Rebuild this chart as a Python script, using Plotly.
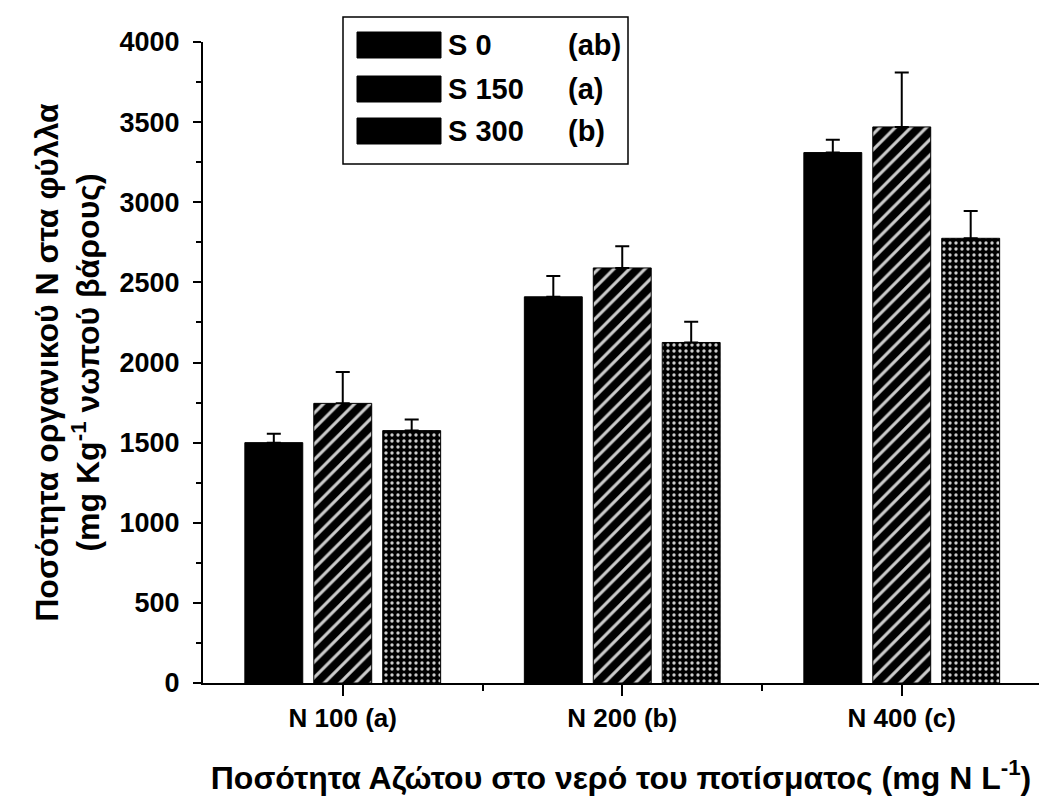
import plotly.graph_objects as go

# ---- data ----
categories = ["N 100 (a)", "N 200 (b)", "N 400 (c)"]
x_pos = [1, 2, 3]
series_names = ["S 0", "S 150", "S 300"]
series_letters = ["(ab)", "(a)", "(b)"]
s0_values = [1500, 2410, 3310]
s150_values = [1745, 2590, 3470]
s300_values = [1575, 2125, 2775]
s0_err = [55, 130, 80]
s150_err = [195, 135, 340]
s300_err = [70, 130, 170]

values = [s0_values, s150_values, s300_values]
errors = [s0_err, s150_err, s300_err]
patterns = [
    dict(shape=""),
    dict(shape="/", fgcolor="white", bgcolor="black", size=11, solidity=0.28, fgopacity=0.8),
    dict(shape=".", fgcolor="white", bgcolor="black", size=6, solidity=0.25, fgopacity=0.8),
]

FONT = "Liberation Sans, Arial, sans-serif"

fig = go.Figure()
for name, vals, errs, pat in zip(series_names, values, errors, patterns):
    fig.add_trace(go.Bar(
        x=x_pos, y=vals, name=name,
        marker=dict(color="black", line=dict(color="black", width=1), pattern=pat),
        error_y=dict(type="data", array=errs, arrayminus=[0] * len(errs), symmetric=False,
                     color="black", thickness=2, width=7),
        showlegend=False,
    ))

W, H = 1039, 807
L, R, T, B = 203, 0, 42, 124
plot_w = W - L - R
plot_h = H - T - B
px_per_unit = 279.5
x_range = [0.5, 0.5 + plot_w / px_per_unit]


def px(x):
    return (x - L) / plot_w


def py(y):
    return (H - B - y) / plot_h


# manual legend (large swatches as in the original)
shapes = [dict(type="rect", xref="paper", yref="paper",
               x0=px(343), x1=px(628), y0=py(164), y1=py(17),
               line=dict(color="black", width=1.5), fillcolor="white", layer="above")]
annotations = []
row_centers = [45, 89, 131]
for yc, name, let in zip(row_centers, series_names, series_letters):
    shapes.append(dict(type="rect", xref="paper", yref="paper",
                       x0=px(357), x1=px(441), y0=py(yc + 13), y1=py(yc - 13),
                       line=dict(color="black", width=1), fillcolor="black", layer="above"))
    annotations.append(dict(xref="paper", yref="paper", x=px(446), y=py(yc), text=name,
                            showarrow=False, xanchor="left", yanchor="middle",
                            font=dict(family=FONT, size=29, color="black", weight="bold")))
    annotations.append(dict(xref="paper", yref="paper", x=px(566), y=py(yc), text=let,
                            showarrow=False, xanchor="left", yanchor="middle",
                            font=dict(family=FONT, size=29, color="black", weight="bold")))

fig.update_layout(
    width=W, height=H,
    margin=dict(l=L, r=R, t=T, b=B, pad=0),
    paper_bgcolor="white", plot_bgcolor="white",
    barmode="group", bargap=0.26, bargroupgap=0.16,
    shapes=shapes, annotations=annotations,
    font=dict(family=FONT, color="black", size=22, weight="bold"),
)

fig.update_xaxes(
    range=x_range, tickvals=x_pos, ticktext=categories,
    showline=True, linecolor="black", linewidth=2,
    ticks="outside", ticklen=11, tickwidth=2, tickcolor="black",
    minor=dict(tickvals=[1.5, 2.5], ticks="outside", ticklen=6, tickwidth=2, tickcolor="black"),
    showgrid=False, zeroline=False,
    tickfont=dict(family=FONT, size=26, color="black", weight="bold"),
    title=dict(text="Ποσότητα Αζώτου στο νερό του ποτίσματος (mg N L<sup>-1</sup>)",
               font=dict(family=FONT, size=32, color="black", weight="bold"), standoff=34),
)
fig.update_yaxes(
    range=[0, 4000], dtick=500, tick0=0,
    showline=True, linecolor="black", linewidth=2,
    ticks="outside", ticklen=8, tickwidth=2, tickcolor="black",
    minor=dict(dtick=250, ticks="outside", ticklen=5, tickwidth=2, tickcolor="black"),
    showgrid=False, zeroline=False, ticklabelstandoff=8,
    tickfont=dict(family=FONT, size=27, color="black", weight="bold"),
    title=dict(text="Ποσότητα οργανικού N στα φύλλα<br>(mg Kg<sup>-1</sup> νωπού βάρους)",
               font=dict(family=FONT, size=32, color="black", weight="bold"), standoff=10),
)

fig.write_html("out.html")
